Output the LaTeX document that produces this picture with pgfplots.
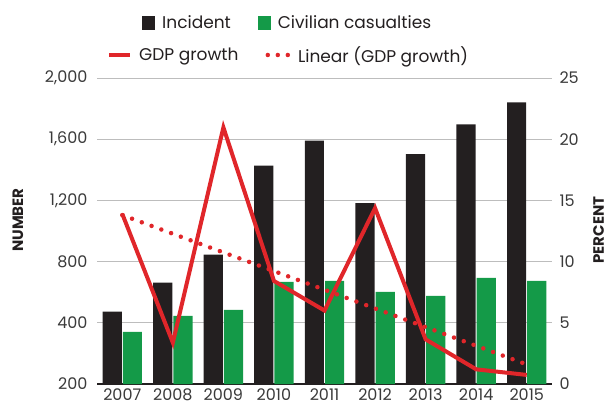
\documentclass[border=0pt]{standalone}
\usepackage{fontspec}
\setmainfont{Poppins}
\usepackage{pgfplots}
\pgfplotsset{compat=1.18}
\definecolor{barblack}{HTML}{231F20}
\definecolor{bargreen}{HTML}{149A48}
\definecolor{gdpred}{HTML}{E0262A}
\definecolor{gridgray}{HTML}{BDBDBD}
\definecolor{ticktext}{HTML}{3A3A3A}
\begin{document}
\begin{tikzpicture}[x=1pt,y=1pt]
\path[use as bounding box] (0,0) rectangle (609,408);
\begin{axis}[
  at={(97pt,24pt)}, anchor=south west,
  scale only axis, width=455pt, height=306pt,
  xmin=-0.5, xmax=8.5, ymin=0, ymax=2000,
  ybar, bar width=0.38,
  xtick={0,...,8},
  xticklabels={2007,2008,2009,2010,2011,2012,2013,2014,2015},
  ytick={0,400,800,1200,1600,2000},
  yticklabels={200,400,800,{1,200},{1,600},{2,000}},
  axis x line*=bottom, axis y line*=left,
  y axis line style={draw=none},
  x axis line style={line width=1.2pt, color=barblack},
  major tick length=0pt,
  ymajorgrids, grid style={gridgray, line width=1pt},
  tick label style={font=\fontsize{16}{16}\selectfont, color=ticktext},
  /pgf/number format/assume math mode=true,
  xticklabel style={yshift=-1pt},
  yticklabel style={xshift=-6pt},
  legend style={draw=none, fill=none, inner sep=0pt, at={(0,1.0)}, anchor=west,
    yshift=55pt, xshift=45pt,
    font=\fontsize{17}{17}\selectfont, text=barblack,
    /tikz/every odd column/.append style={column sep=5pt},
    /tikz/every even column/.append style={column sep=25pt}},
  legend columns=2,
  legend image code/.code={\fill[#1] (0pt,-7pt) rectangle (13pt,7pt);},
]
\addplot[fill=barblack, draw=none, bar shift=-0.2] coordinates {
 (0,473) (1,663) (2,846) (3,1428) (4,1590) (5,1182) (6,1503) (7,1697) (8,1841)};
\addplot[fill=bargreen, draw=none, bar shift=0.2] coordinates {
 (0,340) (1,445) (2,484) (3,667) (4,674) (5,602) (6,576) (7,693) (8,674)};
\legend{Incident, Civilian casualties}
\end{axis}
\begin{axis}[
  at={(97pt,24pt)}, anchor=south west,
  scale only axis, width=455pt, height=306pt,
  xmin=-0.5, xmax=8.5, ymin=0, ymax=25,
  axis x line=none, axis y line*=right,
  y axis line style={draw=none},
  major tick length=0pt,
  ytick={0,5,10,15,20,25},
  tick label style={font=\fontsize{16}{16}\selectfont, color=ticktext},
  /pgf/number format/assume math mode=true,
  yticklabel style={xshift=4pt},
  legend style={draw=none, fill=none, inner sep=0pt, at={(0,1.0)}, anchor=west,
    yshift=23pt, xshift=10pt,
    font=\fontsize{17}{17}\selectfont, text=barblack,
    /tikz/every odd column/.append style={column sep=5pt},
    /tikz/every even column/.append style={column sep=25pt}},
  legend columns=2,
]
\addplot[gdpred, line width=4pt, line join=miter, miter limit=10, mark=none,
  legend image code/.code={\draw[gdpred, line width=4pt] (0pt,0pt) -- (21pt,0pt);}]
 coordinates {(0,13.9) (1,3.38) (2,20.96) (3,8.42) (4,6.0) (5,14.37) (6,3.65) (7,1.2) (8,0.74)};
\addplot[gdpred, line width=4.5pt, line cap=round, dash pattern=on 0pt off 10.4pt, mark=none,
  legend image code/.code={\draw[gdpred, line width=4.5pt, line cap=round, dash pattern=on 0pt off 10pt] (2pt,0pt) -- (23pt,0pt);}]
 coordinates {(0,13.8) (8,1.6)};
\legend{GDP growth, Linear (GDP growth)}
\end{axis}
\node[rotate=90, font=\bfseries\fontsize{15}{15}\selectfont, text=barblack] at (18,188) {NUMBER};
\node[rotate=90, font=\bfseries\fontsize{15}{15}\selectfont, text=barblack] at (598.5,178) {PERCENT};
\end{tikzpicture}
\end{document}
